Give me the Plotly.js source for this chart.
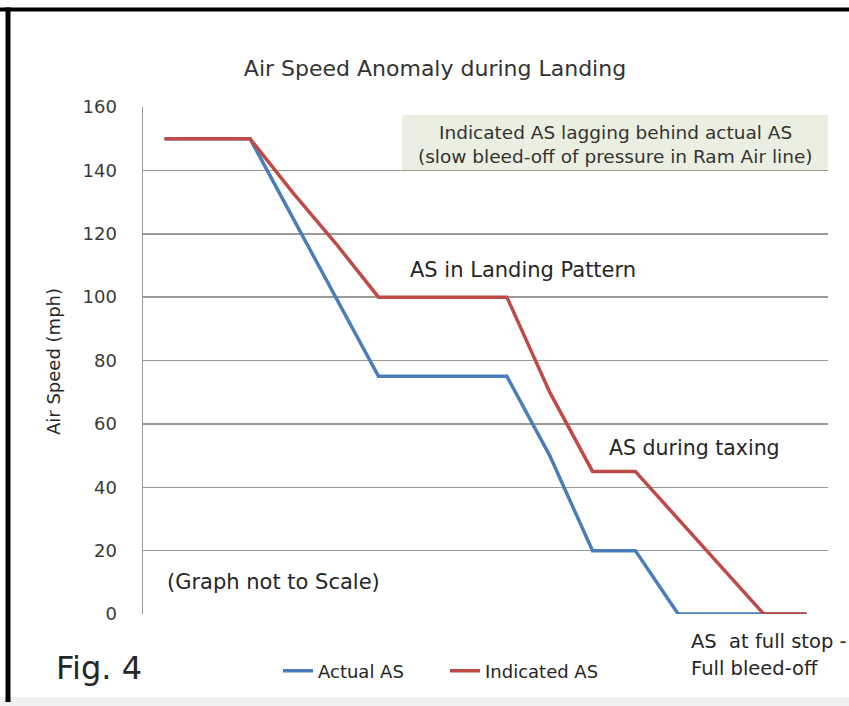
<!DOCTYPE html>
<html>
<head>
<meta charset="utf-8">
<script src="https://cdn.plot.ly/plotly-3.0.1.min.js"></script>
<style>
html,body{margin:0;padding:0;background:#fff;}
#chart{width:849px;height:706px;}
</style>
</head>
<body>
<div id="chart"></div>
<script>
// ---- data ----
const steps = [0, 1, 2, 3, 4, 5, 6, 7, 8, 9, 10, 11, 12, 13, 14, 15];
const actualAS = [150, 150, 150, 125, 100, 75, 75, 75, 75, 50, 20, 20, 0, 0, 0, 0];
const indicatedAS = [150, 150, 150, 133, 117, 100, 100, 100, 100, 70, 45, 45, 30, 15, 0, 0];
const seriesNames = ["Actual AS", "Indicated AS"];
const yTicks = [0, 20, 40, 60, 80, 100, 120, 140, 160];

const chartTitle = "Air Speed Anomaly during Landing";
const yTitle = "Air Speed (mph)";
const boxLine1 = "Indicated AS lagging behind actual AS";
const boxLine2 = "(slow bleed-off of pressure in Ram Air line)";
const noteLanding = "AS in Landing Pattern";
const noteTaxi = "AS during taxing";
const noteScale = "(Graph not to Scale)";
const noteStop1 = "AS&nbsp; at full stop -";
const noteStop2 = "Full bleed-off";
const figLabel = "Fig. 4";

// ---- layout helpers (pixel -> paper) ----
const W = 849, H = 706;
const L = 143, R = 21, T = 107, B = 92;
const pw = W - L - R, ph = H - T - B;
const px = x => (x - L) / pw;
const py = y => (H - B - y) / ph;

const FONT = "'DejaVu Sans', Verdana, sans-serif";
const TXT = "#262626";

const traces = [
  {x: steps, y: actualAS, name: seriesNames[0], type: "scatter", mode: "lines",
   line: {color: "#4a7ebb", width: 3.5}},
  {x: steps, y: indicatedAS, name: seriesNames[1], type: "scatter", mode: "lines",
   line: {color: "#be4b48", width: 3.5}}
];

function note(text, x, y, size, anchor, color) {
  return {text: text, xref: "paper", yref: "paper", x: px(x), y: py(y), showarrow: false,
          font: {family: FONT, size: size, color: color || TXT},
          xanchor: anchor || "left", yanchor: "middle"};
}

const layout = {
  width: W, height: H,
  margin: {l: L, r: R, t: T, b: B, pad: 0},
  paper_bgcolor: "#fff", plot_bgcolor: "#fff",
  font: {family: FONT, color: TXT},
  showlegend: true,
  title: {text: chartTitle, font: {family: FONT, size: 22, color: "#333"},
          x: 435 / W, xanchor: "center", xref: "container",
          y: 1 - 68 / H, yanchor: "middle", yref: "container"},
  xaxis: {range: [-0.5, 15.5], showgrid: false, zeroline: false, showticklabels: false,
          ticks: "", showline: false, fixedrange: true},
  yaxis: {range: [0, 160], tickvals: yTicks, showgrid: true, gridcolor: "#9a9a9a", gridwidth: 1.5,
          zeroline: false, showline: true, linecolor: "#9a9a9a", linewidth: 1.5,
          ticks: "", ticklabelstandoff: 21,
          tickfont: {family: FONT, size: 18, color: "#3a3a3a"}},
  legend: {orientation: "h", x: px(278), xanchor: "left", y: py(671), yanchor: "middle",
           font: {family: FONT, size: 18, color: TXT}, bgcolor: "rgba(0,0,0,0)",
           entrywidth: 122, entrywidthmode: "pixels", tracegroupgap: 0},
  shapes: [
    {type: "rect", xref: "paper", yref: "paper", x0: px(402), x1: px(828), y0: py(170), y1: py(115),
     fillcolor: "#ebefe1", line: {width: 0}, layer: "between"},
    {type: "rect", xref: "paper", yref: "paper", x0: px(0), x1: px(849), y0: py(697), y1: py(706),
     fillcolor: "#f0f0f0", line: {width: 0}, layer: "above"},
    {type: "line", xref: "paper", yref: "paper", x0: px(0), x1: px(849), y0: py(9.5), y1: py(9.5),
     line: {color: "#000", width: 4}, layer: "above"},
    {type: "line", xref: "paper", yref: "paper", x0: px(8), x1: px(8), y0: py(7.5), y1: py(702),
     line: {color: "#000", width: 5}, layer: "above"}
  ],
  annotations: [
    Object.assign(note(yTitle, 53, 362, 18, "center"), {textangle: -90}),
    note(boxLine1, 615, 132, 18.5, "center", "#333"),
    note(boxLine2, 615, 157, 18.5, "center", "#333"),
    note(noteLanding, 408, 270, 21),
    note(noteTaxi, 607, 448, 20.5),
    note(noteScale, 165, 582, 21),
    note(noteStop1, 689, 641, 19.5),
    note(noteStop2, 689, 668, 19.5),
    note(figLabel, 54, 668, 32)
  ]
};

Plotly.newPlot("chart", traces, layout, {displayModeBar: false, staticPlot: true});
</script>
</body>
</html>
